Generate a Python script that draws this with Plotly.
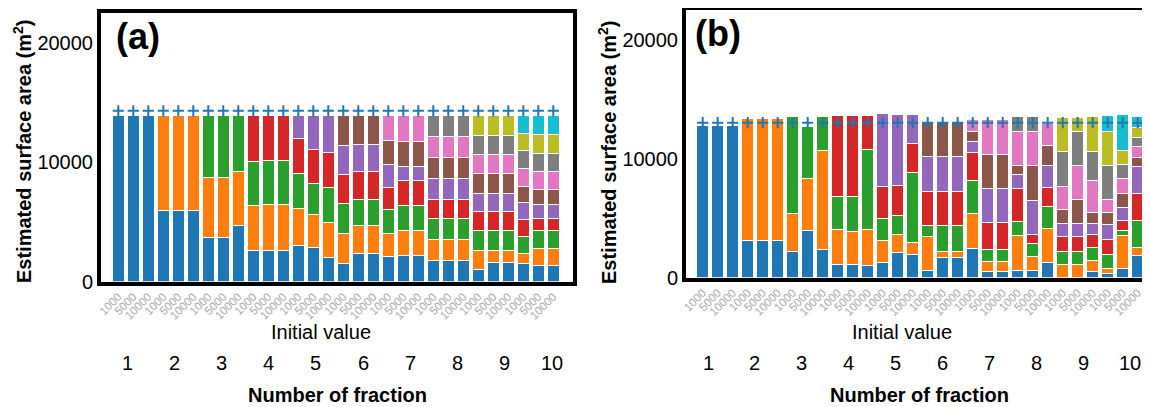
import plotly.graph_objects as go

W, H = 1150, 407
OFF = 8  # page body margin: screen position = figure position + 8 px
FONT = "Liberation Sans, Arial, Helvetica, sans-serif"
TAB10 = ["#1f77b4", "#ff7f0e", "#2ca02c", "#d62728", "#9467bd",
         "#8c564b", "#e377c2", "#7f7f7f", "#bcbd22", "#17becf"]

fractions = [1, 2, 3, 4, 5, 6, 7, 8, 9, 10]
initial_values = ["1000", "5000", "10000"]

# ---- panel (a): segment areas (bottom -> top) for initial values 1000 / 5000 / 10000
a_frac1 = [[13880], [13880], [13880]]
a_frac2 = [[5940, 7940], [5940, 7940], [5940, 7940]]
a_frac3 = [[3650, 5090, 5140], [3650, 5090, 5140], [4680, 4530, 4670]]
a_frac4 = [[2590, 3740, 3720, 3830], [2590, 3830, 3690, 3770], [2590, 3830, 3690, 3770]]
a_frac5 = [[3030, 3050, 2940, 2960, 1900], [2840, 2740, 2660, 2850, 2790],
           [2000, 2940, 2960, 2940, 3040]]
a_frac6 = [[1550, 2490, 2520, 2370, 2460, 2490], [2310, 2370, 2210, 2320, 2300, 2370],
           [2310, 2370, 2210, 2320, 2300, 2370]]
a_frac7 = [[2080, 1910, 2010, 1900, 1930, 1960, 2090],
           [2140, 2120, 2070, 2100, 1200, 2100, 2150],
           [2140, 2120, 2070, 2100, 1200, 2100, 2150]]
a_frac8 = [[1780, 1760, 1700, 1650, 1710, 1790, 1760, 1730],
           [1780, 1760, 1700, 1650, 1710, 1790, 1760, 1730],
           [1780, 1760, 1700, 1650, 1710, 1790, 1760, 1730]]
a_frac9 = [[970, 1590, 1680, 1620, 1540, 1670, 1540, 1650, 1620],
           [1610, 950, 1680, 1620, 1540, 1670, 1540, 1650, 1620],
           [1610, 950, 1680, 1620, 1540, 1670, 1540, 1650, 1620]]
a_frac10 = [[1500, 860, 1400, 1460, 1420, 1320, 1480, 1510, 1480, 1450],
            [1360, 1420, 1460, 1000, 1230, 1260, 1480, 1540, 1540, 1590],
            [1360, 1420, 1460, 1000, 1230, 1260, 1480, 1540, 1540, 1590]]
a_reference_area = 14300

# ---- panel (b)
b_frac1 = [[12790], [12790], [12790]]
b_frac2 = [[3140, 10200], [3140, 10200], [3140, 10200]]
b_frac3 = [[2220, 3200, 8150], [3980, 4370, 4400], [2390, 8270, 2910]]
b_frac4 = [[1140, 2900, 2790, 6790], [1140, 2770, 2920, 6790], [1060, 2980, 6700, 2880]]
b_frac5 = [[1280, 1860, 1810, 2730, 6110], [2110, 1540, 1580, 2510, 5990],
           [1940, 1030, 5880, 2450, 2430]]
b_frac6 = [[570, 2880, 960, 2860, 2890, 2890], [1690, 500, 2220, 2820, 2930, 2890],
           [1690, 500, 2220, 2820, 2930, 2890]]
b_frac7 = [[2420, 2950, 2780, 2370, 890, 920, 990],
           [500, 900, 980, 2290, 2860, 2850, 2940],
           [500, 900, 980, 2290, 2860, 2850, 2940]]
b_frac8 = [[640, 2890, 1170, 2810, 1170, 720, 2920, 1190],
           [640, 1140, 1080, 800, 2870, 2870, 2890, 1220],
           [1280, 2890, 1780, 1650, 1800, 1720, 1860, 90]]
b_frac9 = [[0, 1140, 1100, 1250, 1040, 1230, 1910, 2950, 2880],
           [0, 1120, 1120, 1200, 1090, 2060, 2880, 2850, 1130],
           [500, 970, 1040, 1080, 980, 910, 2670, 2470, 2950]]
b_frac10 = [[365, 415, 1140, 1280, 1240, 1000, 1130, 2900, 2860, 1320],
            [740, 2830, 420, 780, 1170, 1170, 1190, 1200, 1220, 2960],
            [1830, 750, 2260, 2220, 2290, 780, 870, 800, 810, 920]]
b_reference_area = 13030

a_groups = [a_frac1, a_frac2, a_frac3, a_frac4, a_frac5,
            a_frac6, a_frac7, a_frac8, a_frac9, a_frac10]
b_groups = [b_frac1, b_frac2, b_frac3, b_frac4, b_frac5,
            b_frac6, b_frac7, b_frac8, b_frac9, b_frac10]


def px(x):  # screen x -> paper fraction
    return (x - OFF) / W


def py(y):  # screen y -> paper fraction
    return 1 - (y - OFF) / H


fig = go.Figure()


def add_panel(groups, ref_area, xa, ya):
    bars = [bar for g in groups for bar in g]
    xs = list(range(len(bars)))
    nseg = max(len(b) for b in bars)
    for k in range(nseg):
        ys = [b[k] if len(b) > k else None for b in bars]
        fig.add_trace(go.Bar(
            x=xs, y=ys, xaxis=xa, yaxis=ya,
            marker=dict(color=TAB10[k], line=dict(color="white", width=1)),
            showlegend=False, hoverinfo="skip"))
    fig.add_trace(go.Scatter(
        x=xs, y=[ref_area for _ in xs], xaxis=xa, yaxis=ya, mode="markers",
        marker=dict(symbol="cross-thin", size=8,
                    line=dict(color="#1f77b4", width=2)),
        showlegend=False, hoverinfo="skip"))
    return xs


xs_a = add_panel(a_groups, a_reference_area, "x", "y")
xs_b = add_panel(b_groups, b_reference_area, "x2", "y2")

ticktext = [initial_values[i % 3] for i in range(30)]

# frames in screen pixels
A_L, A_R, A_T, A_B = 101, 573, 13, 281.5
B_L, B_R, B_T, B_B = 686, 1158, 10, 277.7
SLOT = 15.0
A_C0, B_C0 = 118.3, 702.7   # centre of first bar

common_x = dict(showgrid=False, zeroline=False, showline=True, linewidth=4,
                linecolor="black", mirror=True, ticks="", tickangle=-45,
                tickfont=dict(family=FONT, size=11.5, color="#ababab"),
                tickmode="array", automargin=False)
common_y = dict(showgrid=False, zeroline=False, showline=True, linewidth=4,
                linecolor="black", ticks="", range=[0, 22500],
                tickmode="array", tickvals=[0, 10000, 20000],
                ticktext=["0", "10000", "20000"],
                tickfont=dict(family=FONT, size=20, color="black"),
                automargin=False)

fig.update_layout(
    width=W, height=H, margin=dict(l=0, r=0, t=0, b=0),
    paper_bgcolor="white", plot_bgcolor="white",
    barmode="stack", bargap=0.2,
    xaxis=dict(domain=[px(A_L), px(A_R)], anchor="y",
               range=[(A_L - A_C0) / SLOT, (A_R - A_C0) / SLOT],
               tickvals=xs_a, ticktext=ticktext, **common_x),
    yaxis=dict(domain=[py(A_B), py(A_T)], anchor="x", mirror=True, **common_y),
    xaxis2=dict(domain=[px(B_L), min(1.0, px(B_R))], anchor="y2",
                range=[(B_L - B_C0) / SLOT, (min(B_R, W + OFF) - B_C0) / SLOT],
                tickvals=xs_b, ticktext=ticktext, **common_x),
    yaxis2=dict(domain=[py(B_B), py(B_T)], anchor="x2", mirror=True, **common_y),
)

ann = []


def text(x_px, y_px, s, size, bold=False, angle=0):
    ann.append(dict(x=px(x_px), y=py(y_px), xref="paper", yref="paper",
                    text=f"<b>{s}</b>" if bold else s, showarrow=False,
                    textangle=angle, xanchor="center", yanchor="middle",
                    font=dict(family=FONT, size=size, color="black")))


for left, tag_x, tag_y, title_x, iv_x, nf_x, n1, n10 in [
        (A_L, 138, 36, 22, 321, 337, 127, 552),
        (B_L, 718, 33, 607, 902, 919, 708, 1130)]:
    text(tag_x, tag_y, "(a)" if left == A_L else "(b)", 36, bold=True)
    text(title_x, 152, "Estimated surface area (m<sup>2</sup>)", 20, bold=True, angle=-90)
    text(iv_x, 332, "Initial value", 20)
    step = (n10 - n1) / 9
    for i, f in enumerate(fractions):
        text(n1 + i * step, 363, str(f), 20)
    text(nf_x, 395, "Number of fraction", 20, bold=True)

fig.update_layout(annotations=ann)
fig.write_html("out.html")
